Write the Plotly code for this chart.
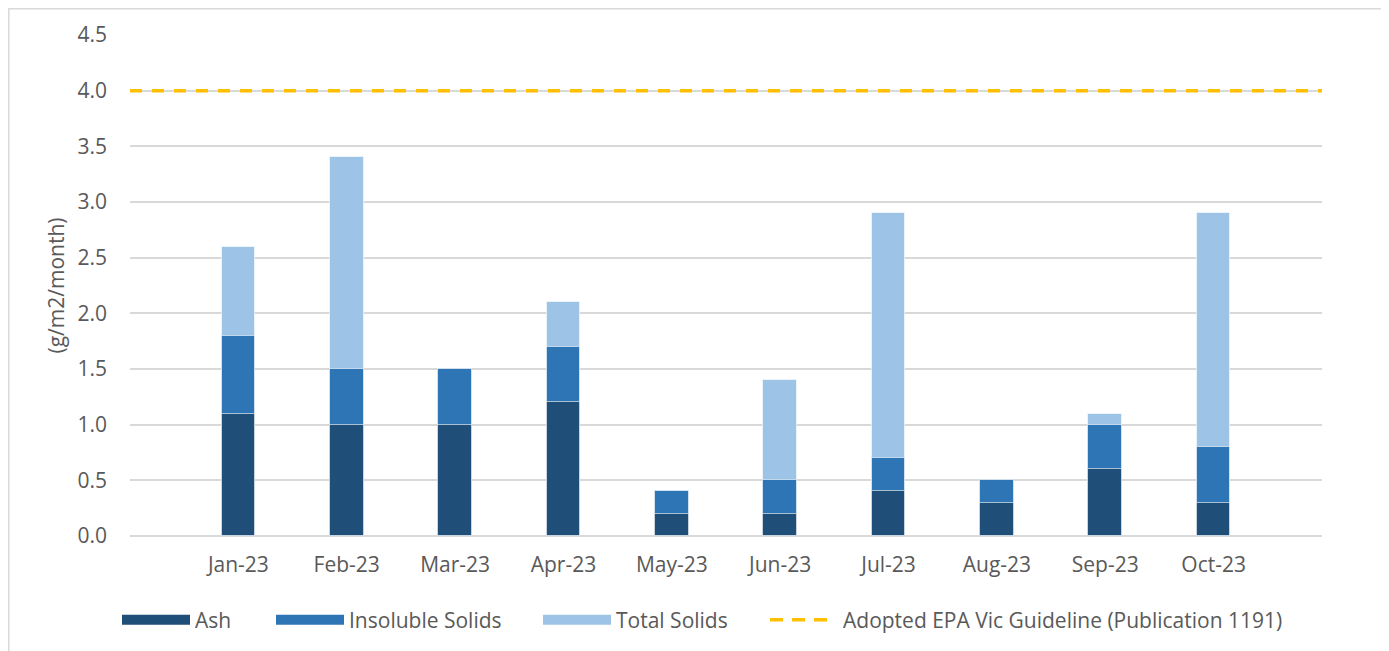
import plotly.graph_objects as go

months = ["Jan-23", "Feb-23", "Mar-23", "Apr-23", "May-23", "Jun-23", "Jul-23", "Aug-23", "Sep-23", "Oct-23"]
ash = [1.1, 1.0, 1.0, 1.2, 0.2, 0.2, 0.4, 0.3, 0.6, 0.3]
insoluble_solids = [1.8, 1.5, 1.5, 1.7, 0.4, 0.5, 0.7, 0.5, 1.0, 0.8]
total_solids = [2.6, 3.4, 1.5, 2.1, 0.4, 1.4, 2.9, 0.5, 1.1, 2.9]
guideline = 4.0
y_ticks = [0.0, 0.5, 1.0, 1.5, 2.0, 2.5, 3.0, 3.5, 4.0, 4.5]

C_ASH = "#1F4E79"
C_INS = "#2E75B6"
C_TOT = "#9DC3E6"
C_GUIDE = "#FFC000"
TXT = "#595959"
FONT = "Open Sans"
FS = 21

# plot-area geometry (page pixels); the page adds an 8px body margin
OFF = 8
PL, PR, PT, PB = 130, 1322, 35, 537
W, H = 1381, 643
PW, PH = PR - PL, PB - PT

idx = list(range(len(months)))
x_lo, x_hi = -1, len(months)

fig = go.Figure()
for name, vals, col in [("Total Solids", total_solids, C_TOT),
                        ("Insoluble Solids", insoluble_solids, C_INS),
                        ("Ash", ash, C_ASH)]:
    fig.add_trace(go.Bar(x=idx, y=vals, name=name, width=0.31,
                         marker=dict(color=col, line=dict(color="rgba(255,255,255,0.6)", width=1)),
                         showlegend=False, legendgroup=name))

fig.add_trace(go.Scatter(x=[x_lo, x_hi], y=[guideline, guideline], mode="lines",
                         line=dict(color=C_GUIDE, width=3.5, dash="12px,10px"),
                         showlegend=False, legendgroup="guide",
                         name="Adopted EPA Vic Guideline (Publication 1191)"))

legend_items = [("Ash", C_ASH, 13, "solid", "legend", 122),
                ("Insoluble Solids", C_INS, 13, "solid", "legend2", 276),
                ("Total Solids", C_TOT, 13, "solid", "legend3", 543),
                ("Adopted EPA Vic Guideline (Publication 1191)", C_GUIDE, 3.5,
                 "13px,9px,13px,9px,13px,30px", "legend4", 770)]
legend_layouts = {}
for name, col, lw, dash, lg, sx in legend_items:
    grp = "guide" if lg == "legend4" else name
    fig.add_trace(go.Scatter(x=[None], y=[None], mode="lines", name=name, legendgroup=grp,
                             line=dict(color=col, width=lw, dash=dash), legend=lg))
    legend_layouts[lg] = dict(orientation="h", x=(sx - 5 - PL) / PW, xanchor="left",
                              y=(PB - 620) / PH, yanchor="middle",
                              font=dict(family=FONT, size=FS, color=TXT), itemwidth=68,
                              bgcolor="rgba(0,0,0,0)", borderwidth=0)

fig.update_layout(
    width=W, height=H,
    margin=dict(l=PL - OFF, r=W - (PR - OFF), t=PT - OFF, b=H - (PB - OFF)),
    paper_bgcolor="white", plot_bgcolor="white",
    barmode="overlay", bargap=0,
    font=dict(family=FONT, size=FS, color=TXT),
    xaxis=dict(range=[x_lo, x_hi], tickmode="array", tickvals=idx, ticktext=months,
               showgrid=False, zeroline=False, showline=False, ticks="",
               ticklabelstandoff=14,
               tickfont=dict(size=FS, color=TXT), fixedrange=True),
    yaxis=dict(range=[0, 4.5], tickvals=y_ticks, tickformat=".1f",
               showgrid=True, gridcolor="#D9D9D9", gridwidth=1.5,
               zeroline=True, zerolinecolor="#D9D9D9", zerolinewidth=1.5,
               showline=False, ticks="", ticklabelstandoff=22,
               tickfont=dict(size=FS, color=TXT),
               title=dict(text="(g/m2/month)", font=dict(size=FS, color=TXT), standoff=7)),
    shapes=[dict(type="rect", xref="paper", yref="paper",
                 x0=(OFF + 0.8 - PL) / PW, x1=(1384 - PL) / PW,
                 y0=-0.4, y1=(PB - (OFF + 0.8)) / PH,
                 line=dict(color="#D9D9D9", width=1.5), fillcolor="rgba(0,0,0,0)", layer="below")],
    **legend_layouts,
)

fig.write_html("out.html")
